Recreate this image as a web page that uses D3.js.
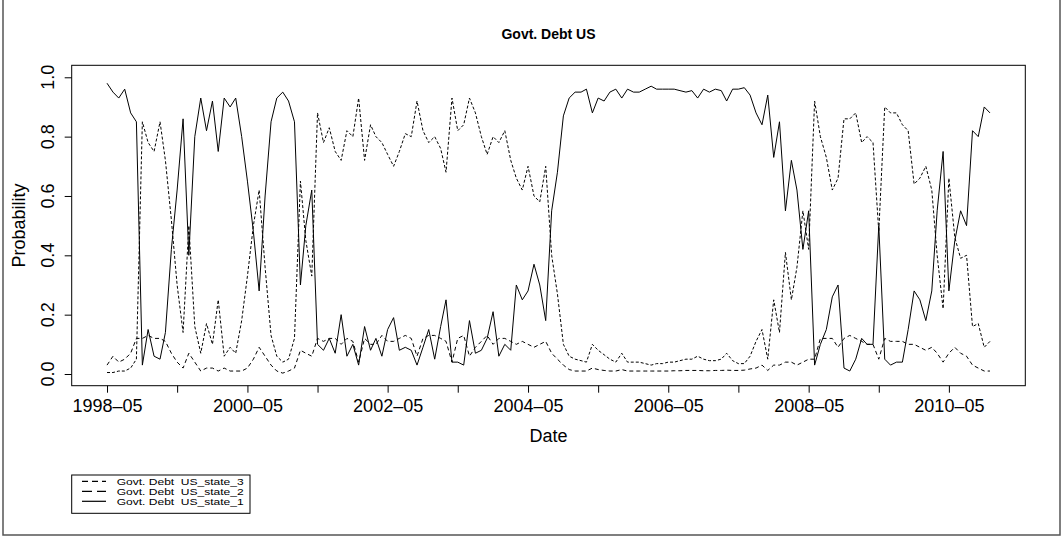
<!DOCTYPE html>
<html>
<head>
<meta charset="utf-8">
<script src="https://cdn.jsdelivr.net/npm/d3@7"></script>
<style>
  body { margin: 0; background: #fff; }
  svg { display: block; font-family: "Liberation Sans", Arial, Helvetica, sans-serif; }
</style>
</head>
<body>
<svg id="chart" width="1064" height="540"></svg>
<script>
// monthly smoothed probabilities, first month 1998-05
var startMonth = "1998-05";

var state1 = [
  0.98, 0.95, 0.93, 0.96, 0.88, 0.85, 0.03, 0.15, 0.06, 0.05, 0.14, 0.42, 0.62, 0.86, 0.40, 0.80, 0.93, 0.82, 0.92, 0.75, 0.93, 0.90, 0.93, 0.80, 0.65,
  0.48, 0.28, 0.60, 0.85, 0.93, 0.95, 0.92, 0.85, 0.30, 0.50, 0.62, 0.10, 0.08, 0.12, 0.07, 0.20, 0.06, 0.10, 0.03, 0.16, 0.08, 0.12, 0.06, 0.15, 0.19,
  0.08, 0.09, 0.08, 0.03, 0.09, 0.15, 0.05, 0.16, 0.25, 0.04, 0.04, 0.03, 0.18, 0.07, 0.08, 0.12, 0.21, 0.06, 0.10, 0.08, 0.30, 0.25, 0.28, 0.37, 0.30,
  0.18, 0.55, 0.68, 0.87, 0.93, 0.95, 0.95, 0.96, 0.88, 0.93, 0.92, 0.95, 0.96, 0.93, 0.96, 0.95, 0.95, 0.96, 0.97, 0.96, 0.96, 0.96, 0.96, 0.955, 0.95,
  0.955, 0.93, 0.96, 0.95, 0.96, 0.955, 0.92, 0.96, 0.96, 0.965, 0.94, 0.88, 0.84, 0.94, 0.73, 0.85, 0.55, 0.72, 0.62, 0.42, 0.55, 0.03, 0.10, 0.15, 0.26,
  0.30, 0.02, 0.01, 0.05, 0.12, 0.10, 0.10, 0.50, 0.05, 0.03, 0.04, 0.04, 0.15, 0.28, 0.25, 0.18, 0.28, 0.55, 0.75, 0.28, 0.45, 0.55, 0.50, 0.82, 0.80, 0.90, 0.88
];

var state2 = [
  0.03, 0.06, 0.04, 0.05, 0.07, 0.12, 0.12, 0.13, 0.12, 0.12, 0.11, 0.07, 0.04, 0.02, 0.07, 0.04, 0.01, 0.02, 0.02, 0.01, 0.02, 0.01, 0.01, 0.01, 0.02,
  0.05, 0.09, 0.06, 0.03, 0.01, 0.003, 0.01, 0.02, 0.08, 0.07, 0.06, 0.12, 0.11, 0.12, 0.12, 0.10, 0.12, 0.11, 0.04, 0.12, 0.10, 0.10, 0.13, 0.11, 0.11,
  0.12, 0.13, 0.12, 0.06, 0.12, 0.13, 0.13, 0.12, 0.11, 0.04, 0.12, 0.13, 0.06, 0.09, 0.11, 0.13, 0.10, 0.12, 0.12, 0.11, 0.10, 0.11, 0.10, 0.09, 0.10,
  0.11, 0.07, 0.05, 0.03, 0.015, 0.01, 0.01, 0.01, 0.02, 0.015, 0.012, 0.01, 0.01, 0.015, 0.01, 0.01, 0.01, 0.01, 0.01, 0.01, 0.01, 0.01, 0.011, 0.011, 0.012,
  0.012, 0.012, 0.011, 0.011, 0.012, 0.012, 0.013, 0.012, 0.012, 0.013, 0.017, 0.02, 0.03, 0.012, 0.03, 0.03, 0.04, 0.04, 0.03, 0.04, 0.05, 0.05, 0.12, 0.12, 0.12,
  0.09, 0.12, 0.13, 0.12, 0.11, 0.10, 0.10, 0.05, 0.12, 0.11, 0.11, 0.11, 0.10, 0.10, 0.09, 0.08, 0.09, 0.07, 0.04, 0.07, 0.09, 0.07, 0.06, 0.03, 0.02, 0.01, 0.01
];

var state3 = [
  0.005, 0.005, 0.01, 0.01, 0.02, 0.05, 0.85, 0.78, 0.75, 0.85, 0.72, 0.52, 0.30, 0.14, 0.50, 0.16, 0.07, 0.17, 0.10, 0.25, 0.06, 0.09, 0.07, 0.18, 0.33,
  0.50, 0.62, 0.36, 0.13, 0.06, 0.04, 0.05, 0.12, 0.65, 0.45, 0.33, 0.88, 0.78, 0.83, 0.75, 0.72, 0.82, 0.80, 0.93, 0.72, 0.84, 0.80, 0.78, 0.74, 0.70,
  0.75, 0.81, 0.80, 0.92, 0.82, 0.78, 0.80, 0.76, 0.68, 0.93, 0.82, 0.84, 0.93, 0.88, 0.80, 0.74, 0.80, 0.78, 0.82, 0.72, 0.66, 0.62, 0.70, 0.60, 0.58,
  0.70, 0.40, 0.27, 0.10, 0.06, 0.05, 0.045, 0.04, 0.10, 0.08, 0.065, 0.05, 0.04, 0.07, 0.04, 0.04, 0.04, 0.035, 0.03, 0.035, 0.035, 0.04, 0.04, 0.045, 0.05,
  0.05, 0.06, 0.05, 0.045, 0.045, 0.05, 0.07, 0.045, 0.035, 0.035, 0.06, 0.11, 0.15, 0.05, 0.25, 0.14, 0.41, 0.25, 0.36, 0.55, 0.42, 0.92, 0.80, 0.73, 0.62,
  0.66, 0.86, 0.86, 0.88, 0.78, 0.80, 0.78, 0.48, 0.90, 0.88, 0.88, 0.84, 0.82, 0.64, 0.66, 0.70, 0.62, 0.40, 0.22, 0.66, 0.46, 0.39, 0.40, 0.16, 0.17, 0.09, 0.11
];

var yTicks = [0, 0.2, 0.4, 0.6, 0.8, 1.0];
var legendLabels = ["Govt. Debt  US_state_3", "Govt. Debt  US_state_2", "Govt. Debt  US_state_1"];
var titleText = "Govt. Debt US";

var svg = d3.select("#chart");
var box = {left: 71.7, right: 1025.3, top: 65.3, bottom: 385.7};

var parseMonth = d3.timeParse("%Y-%m");
var first = parseMonth(startMonth);
var dates = state1.map(function(d, i) { return d3.timeMonth.offset(first, i); });

// R style 4% padding on both axes
var pad = (box.right - box.left) * 0.04 / 1.08;
var x = d3.scaleTime()
  .domain([dates[0], dates[dates.length - 1]])
  .range([box.left + pad, box.right - pad]);
var y = d3.scaleLinear()
  .domain([-0.0394, 1.0404])
  .range([box.bottom, box.top]);

// outer figure border
svg.append("rect")
  .attr("x", 3).attr("y", -2).attr("width", 1057).attr("height", 537)
  .attr("fill", "none").attr("stroke", "#555").attr("stroke-width", 1.5);

svg.append("text")
  .attr("x", (box.left + box.right) / 2).attr("y", 39)
  .attr("text-anchor", "middle").attr("font-weight", "bold").attr("font-size", 14)
  .text(titleText);

var line = d3.line()
  .x(function(d) { return x(d.date); })
  .y(function(d) { return y(d.v); });

var series = [
  {vals: state1, dash: null},
  {vals: state2, dash: "4,3"},
  {vals: state3, dash: "3,2"}
];
series.forEach(function(s) {
  var pts = s.vals.map(function(v, i) { return {date: dates[i], v: v}; });
  svg.append("path")
    .attr("d", line(pts))
    .attr("fill", "none").attr("stroke", "#000").attr("stroke-width", 1)
    .attr("stroke-dasharray", s.dash);
});

svg.append("rect")
  .attr("x", box.left).attr("y", box.top)
  .attr("width", box.right - box.left).attr("height", box.bottom - box.top)
  .attr("fill", "none").attr("stroke", "#000").attr("stroke-width", 1);

// x axis: a tick every year, label every other year
var xTicks = d3.timeMonth.range(parseMonth("1998-05"), parseMonth("2010-06"), 12);
var fmt = d3.timeFormat("%Y");
var fmtM = d3.timeFormat("%m");
var xAxis = svg.append("g")
  .attr("transform", "translate(0," + box.bottom + ")")
  .call(d3.axisBottom(x).tickValues(xTicks).tickSize(7).tickPadding(7)
    .tickFormat(function(d, i) { return i % 2 ? "" : fmt(d) + "\u2013" + fmtM(d); }));
xAxis.select(".domain").remove();
xAxis.selectAll("text").attr("font-size", 18).attr("fill", "#000").attr("font-family", null);

// y axis with rotated labels
var yAxis = svg.append("g")
  .attr("transform", "translate(" + box.left + ",0)")
  .call(d3.axisLeft(y).tickValues(yTicks).tickSize(7).tickFormat(""));
yAxis.select(".domain").remove();
svg.selectAll("text.ylab").data(yTicks).join("text")
  .attr("class", "ylab")
  .attr("transform", function(d) { return "translate(53.5," + y(d) + ") rotate(-90)"; })
  .attr("text-anchor", "middle").attr("font-size", 18)
  .text(d3.format(".1f"));

svg.append("text")
  .attr("x", (box.left + box.right) / 2).attr("y", 442)
  .attr("text-anchor", "middle").attr("font-size", 18)
  .text("Date");
svg.append("text")
  .attr("transform", "translate(25," + (box.top + box.bottom) / 2 + ") rotate(-90)")
  .attr("text-anchor", "middle").attr("font-size", 18)
  .text("Probability");

// legend (squat, wide text like the original)
var lg = svg.append("g");
lg.append("rect")
  .attr("x", 71.7).attr("y", 475).attr("width", 178.3).attr("height", 38.3)
  .attr("fill", "#fff").attr("stroke", "#000").attr("stroke-width", 1);
var legendDash = ["6,4", "10,5", null];
legendLabels.forEach(function(lab, i) {
  var base = 484.8 + i * 10;
  lg.append("line")
    .attr("x1", 82).attr("x2", 106).attr("y1", base - 3.5).attr("y2", base - 3.5)
    .attr("stroke", "#000").attr("stroke-width", 1.2)
    .attr("stroke-dasharray", legendDash[i]);
  lg.append("text")
    .attr("x", 116.7).attr("y", base)
    .attr("font-size", 9.5).style("white-space", "pre")
    .attr("textLength", 127).attr("lengthAdjust", "spacingAndGlyphs")
    .text(lab);
});
</script>
</body>
</html>
